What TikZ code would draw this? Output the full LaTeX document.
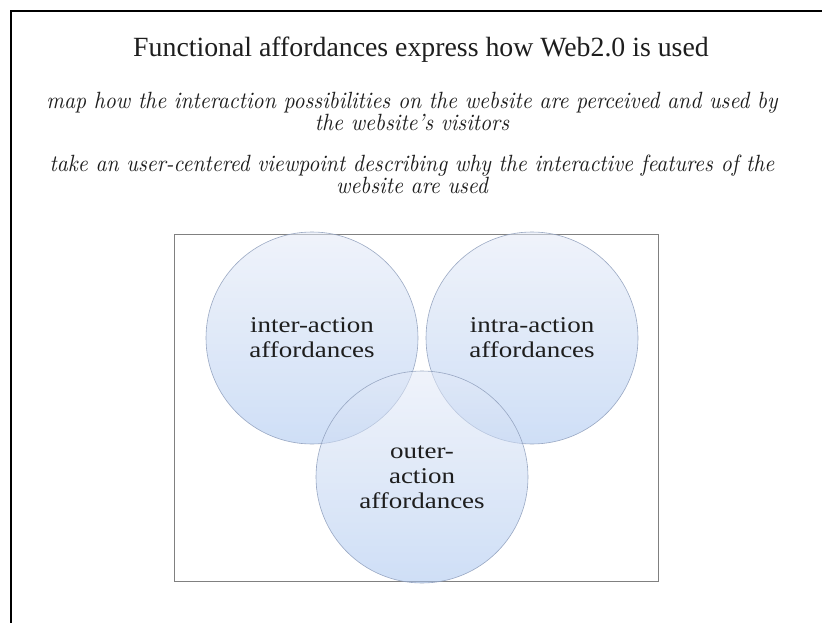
\documentclass[tikz,border=0pt]{standalone}
\usepackage{fontspec}
\setmainfont{Liberation Serif}
\newfontfamily\circfont[FakeStretch=1.2]{Liberation Serif}
\newfontfamily\notefont[FakeStretch=0.92]{lmroman10-italic.otf}
\usetikzlibrary{shapes,positioning}

\definecolor{venntop}{RGB}{228,234,247}
\definecolor{vennbot}{RGB}{168,197,240}
\definecolor{vennline}{RGB}{140,156,186}
\definecolor{textgray}{RGB}{30,30,30}

\tikzset{
  venn/.style={circle, minimum size=212pt, inner sep=0pt, draw=vennline, line width=0.6pt,
    top color=venntop, bottom color=vennbot, fill opacity=0.55, draw opacity=0.85, text opacity=1,
    align=center, text=textgray, font=\circfont\fontsize{22.5}{25}\selectfont},
  note/.style={align=center, text=textgray, font=\notefont\fontsize{23.5}{22}\selectfont}
}

\begin{document}
\begin{tikzpicture}[x=1pt, y=-1pt, node distance=2cm, auto]
    \useasboundingbox (0,0) rectangle (822,623);
    \fill[white] (0,0) rectangle (822,623);
    \clip (0,0) rectangle (822,623);

    % Frame
    \draw[line width=2.5pt] (11,640) |- (840,11);
    \draw[gray, line width=1pt] (174,234) rectangle (658,581);

    % Text
    \node[anchor=base, text=textgray, font=\fontsize{27.8}{33}\selectfont] (title) at (421,57) {Functional affordances express how Web2.0 is used};
    \node[note] (percept) at (412,111) {map how the interaction possibilities on the website are perceived and used by\\the website’s visitors};
    \node[note] (viewpoint) at (412,174) {take an user-centered viewpoint describing why the interactive features of the\\website are used};

    % Circles
    \node[venn] (inter) at (312,338) {inter-action\\affordances};
    \node[venn] (intra) at (532,338) {intra-action\\affordances};
    \node[venn] (outer) at (422,477) {outer-\\action\\affordances};
\end{tikzpicture}
\end{document}
